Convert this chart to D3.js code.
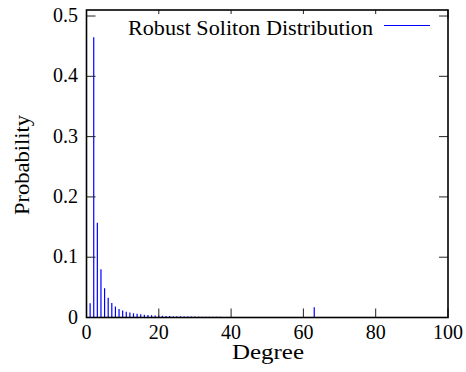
<!DOCTYPE html>
<html><head><meta charset="utf-8">
<script src="https://cdn.jsdelivr.net/npm/d3@7"></script>
<style>body{margin:0;background:#fff}svg{display:block}text{font-family:"Liberation Serif","Times New Roman",serif;fill:#000}</style>
</head><body><svg id="c" width="466" height="372"></svg>
<script>
const degrees = d3.range(1, 101);
const probability = [
0.0237,0.4646,0.1573,0.0799,0.0486,0.0329,0.0239,0.0182,0.0143,0.0116,
0.00964,0.00814,0.00698,0.00606,0.00532,0.00472,0.00422,0.00380,0.00344,0.00313,
0.00287,0.00264,0.00244,0.00226,0.00211,0.00197,0.00184,0.00173,0.00163,0.00154,
0.00145,0.00138,0.00131,0.00124,0.00118,0.00113,0.00108,0.00103,0.00099,0.00095,
0.00091,0.00088,0.00085,0.00081,0.00078,0.00076,0.00073,0.00071,0.00069,0.00066,
0.00064,0.00062,0.00061,0.00059,0.00057,0.00056,0.00054,0.00053,0.00051,0.00050,
0.00049,0.00048,0.01704,0.000227,0.00022,0.000213,0.000207,0.000201,0.000195,0.000189,
0.000184,0.000179,0.000174,0.000169,0.000165,0.00016,0.000156,0.000152,0.000148,0.000145,
0.000141,0.000138,0.000134,0.000131,0.000128,0.000125,0.000122,0.00012,0.000117,0.000114,
0.000112,0.00011,0.000107,0.000105,0.000103,0.000101,0.000099,0.000097,0.000095,0.000093];
const xTicks = [0,20,40,60,80,100];
const yTicks = [0,0.1,0.2,0.3,0.4,0.5];
const seriesName = "Robust Soliton Distribution";

const L=86.5, R=448, T=10, B=317.5;
const svg = d3.select("#c");
const x = d3.scaleLinear().domain([0,100]).range([L,R]);
const y = d3.scaleLinear().domain([0,0.51]).range([B,T]);
const tl = 9;
const fs = 20;

// bars (impulses)
svg.append("g").selectAll("line").data(degrees).join("line")
  .attr("x1",d=>x(d)).attr("x2",d=>x(d))
  .attr("y1",y(0)).attr("y2",(d,i)=>y(probability[i]))
  .attr("stroke","#0000ff").attr("stroke-width",1.2);

// ticks
const tk = svg.append("g").attr("stroke","#222").attr("stroke-width",1);
xTicks.forEach(v=>{
  tk.append("line").attr("x1",x(v)).attr("x2",x(v)).attr("y1",B).attr("y2",B-tl);
  tk.append("line").attr("x1",x(v)).attr("x2",x(v)).attr("y1",T).attr("y2",T+tl);
});
yTicks.forEach(v=>{
  tk.append("line").attr("x1",L).attr("x2",L+tl).attr("y1",y(v)).attr("y2",y(v));
  tk.append("line").attr("x1",R).attr("x2",R-tl).attr("y1",y(v)).attr("y2",y(v));
});

// frame
svg.append("rect").attr("x",L).attr("y",T).attr("width",R-L).attr("height",B-T)
  .attr("fill","none").attr("stroke","#000").attr("stroke-width",1.6);

// tick labels
svg.append("g").selectAll("text").data(xTicks).join("text")
  .attr("x",d=>x(d)).attr("y",339).attr("text-anchor","middle")
  .attr("font-size",fs).text(d=>d);
svg.append("g").selectAll("text").data(yTicks).join("text")
  .attr("x",78).attr("y",d=>y(d)+6).attr("text-anchor","end")
  .attr("font-size",fs).text(d=>d);

// axis titles
svg.append("text").attr("x",232).attr("y",359)
  .attr("font-size",fs).attr("textLength",72).attr("lengthAdjust","spacingAndGlyphs").text("Degree");
svg.append("text").attr("transform","translate(29,215) rotate(-90)")
  .attr("font-size",fs).attr("textLength",100).attr("lengthAdjust","spacingAndGlyphs").text("Probability");

// legend
svg.append("rect").attr("x",122).attr("y",14).attr("width",315).attr("height",24).attr("fill","#fff");
svg.append("text").attr("x",128).attr("y",35)
  .attr("font-size",fs).attr("textLength",245).attr("lengthAdjust","spacingAndGlyphs").text(seriesName);
svg.append("line").attr("x1",384).attr("x2",430).attr("y1",25.5).attr("y2",25.5)
  .attr("stroke","#0000ff").attr("stroke-width",1);
</script></body></html>
